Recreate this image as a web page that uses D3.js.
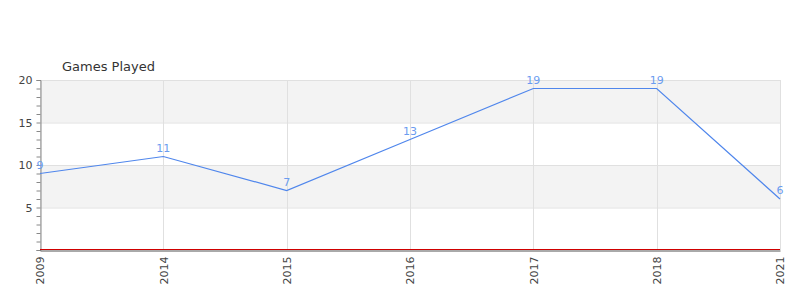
<!DOCTYPE html>
<html>
<head>
<meta charset="utf-8">
<script src="https://cdn.jsdelivr.net/npm/d3@7"></script>
<style>
  body { margin: 0; background: #fff; }
  text { font-family: "DejaVu Sans", sans-serif; }
</style>
</head>
<body>
<script>
// data
const years = ["2009", "2014", "2015", "2016", "2017", "2018", "2021"];
const gamesPlayed = [9, 11, 7, 13, 19, 19, 6];
const yTicks = [5, 10, 15, 20];

const margin = {top: 80, right: 20, bottom: 50, left: 40},
    width = 800 - margin.left - margin.right,
    height = 300 - margin.top - margin.bottom;

const svg = d3.select("body")
    .append("svg")
    .attr("width", width + margin.left + margin.right)
    .attr("height", height + margin.top + margin.bottom)
    .append("g")
    .attr("transform", `translate(${margin.left}, ${margin.top})`);

const x = d3.scalePoint()
    .domain(years)
    .range([0, width]);

const y = d3.scaleLinear()
    .domain([0, 20])
    .range([height, 0]);

// alternating bands
svg.selectAll("rect.band")
    .data([[15, 20], [5, 10]])
    .join("rect")
    .attr("class", "band")
    .attr("x", 0)
    .attr("y", d => y(d[1]))
    .attr("width", width)
    .attr("height", d => y(d[0]) - y(d[1]))
    .attr("fill", "#f3f3f3");

// horizontal grid
svg.selectAll("line.hgrid")
    .data(yTicks)
    .join("line")
    .attr("class", "hgrid")
    .attr("x1", 0).attr("x2", width)
    .attr("y1", d => y(d) + 0.5).attr("y2", d => y(d) + 0.5)
    .attr("stroke", "#e0e0e0");

// vertical grid
svg.selectAll("line.vgrid")
    .data(years)
    .join("line")
    .attr("class", "vgrid")
    .attr("x1", d => Math.round(x(d)) + 0.5).attr("x2", d => Math.round(x(d)) + 0.5)
    .attr("y1", 0).attr("y2", height)
    .attr("stroke", "#e0e0e0");

// Y axis, minor ticks every unit
const yAxis = svg.append("g")
    .attr("transform", "translate(0.5,0)")
    .call(d3.axisLeft(y).ticks(20).tickSize(4)
        .tickFormat(d => yTicks.includes(d) ? d : ""));
yAxis.select(".domain").attr("stroke", "#888");
yAxis.selectAll(".tick line").attr("stroke", "#888");
yAxis.selectAll("text")
    .attr("fill", "#444")
    .style("font-size", "11px")
    .attr("x", -8);

// red baseline + X axis
svg.append("line")
    .attr("x1", 0).attr("x2", width)
    .attr("y1", height - 0.5).attr("y2", height - 0.5)
    .attr("stroke", "#d00000");

const xAxis = svg.append("g")
    .attr("transform", `translate(0, ${height + 0.5})`)
    .call(d3.axisBottom(x).tickSize(0));
xAxis.select(".domain").attr("stroke", "#555");
xAxis.selectAll("text")
    .attr("fill", "#444")
    .style("font-size", "11px")
    .attr("transform", "rotate(-90)")
    .attr("x", -6)
    .attr("y", 0)
    .attr("dy", "0.35em")
    .style("text-anchor", "end");

// line
const line = d3.line()
    .x((d, i) => x(years[i]))
    .y(d => y(d));

svg.append("path")
    .datum(gamesPlayed)
    .attr("fill", "none")
    .attr("stroke", "#4f86ec")
    .attr("stroke-width", 1.2)
    .attr("d", line);

// value labels
svg.selectAll("text.val")
    .data(gamesPlayed)
    .join("text")
    .attr("class", "val")
    .attr("x", (d, i) => x(years[i]))
    .attr("y", d => y(d) - 5)
    .attr("text-anchor", "middle")
    .attr("fill", "#6b9cf0")
    .style("font-size", "11px")
    .text(d => d);

// title
svg.append("text")
    .attr("x", 22)
    .attr("y", -9)
    .attr("fill", "#333")
    .style("font-size", "13px")
    .text("Games Played");
</script>
</body>
</html>
